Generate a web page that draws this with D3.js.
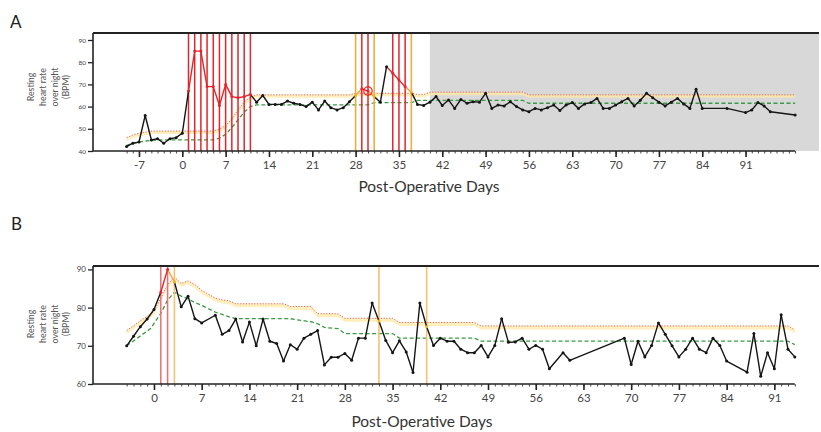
<!DOCTYPE html>
<html>
<head>
<meta charset="utf-8">
<script src="https://cdn.jsdelivr.net/npm/d3@7"></script>
<style>
  body { margin: 0; background: #fff; }
  svg { display: block; font-family: Lato, "Open Sans", sans-serif; }
</style>
</head>
<body>
<div id="chart"></div>
<script>
const width = 821;
const height = 432;

// ---- panel A data ----
const aDays = [-9, -8, -7, -6, -5, -4, -3, -2, -1, 0, 1, 2, 3, 4, 5, 6, 7, 8, 9, 10, 11,
  12, 13, 14, 15, 16, 17, 18, 19, 20, 21, 22, 23, 24, 25, 26, 27, 28, 29, 30, 31, 32, 33,
  34, 35, 36, 37, 38, 39, 40, 41, 42, 43, 44, 45, 46, 47, 48, 49, 50, 51, 52, 53, 54, 55,
  56, 57, 58, 59, 60, 61, 62, 63, 64, 65, 66, 67, 68, 69, 70, 71, 72, 73, 74, 75, 76, 77,
  78, 79, 80, 81, 82, 83, 84, 88, 91, 92, 93, 94, 95, 99];
const aBpm = [42, 43.5, 44, 56, 45, 45.5, 43.5, 45.5, 46, 48, 67, 85, 85, 69, 69, 60.5, 70, 64.5, 64, 64.5, 65.5,
  62, 65, 61, 61, 61, 62.5, 61.5, 61, 60, 62, 58.5, 62.5, 59.5, 58.5, 59.5, 62.2, 65, 68, 67, 64.5, 62, 78,
  75, 72, 69, 66.5, 61, 60.5, 62, 64.5, 60.5, 63, 59.2, 63.2, 61.5, 62.2, 62, 66, 59.2, 60.7, 60.3, 62.2, 60, 58.5,
  57.7, 59.2, 58.5, 59.5, 60.7, 58.2, 60.7, 61.8, 59.2, 61.2, 61.8, 63.7, 59.2, 59.2, 60.7, 62.2, 63.7, 60.3, 62.9, 66, 64, 62,
  60.3, 62, 63.7, 61.2, 59.2, 67.8, 59.2, 59.2, 57.3, 58.5, 61.8, 60.3, 57.7, 56.2];
const aUpper = [[-9, 46], [-8, 47.2], [-7, 48], [-6, 48.5], [-5, 49], [5, 49], [6, 49.8], [7, 51.5], [8, 54.5],
  [9, 58.5], [10, 62], [11, 64.3], [12, 65.3], [27, 65.3], [28, 66], [37, 66], [38, 65.5], [39, 65.5],
  [40, 66.5], [55, 66.5], [56, 65.3], [99, 65.3]];
const aLower = [[-9, 42.5], [-8, 43.5], [-6, 44.5], [-4, 45], [5, 45], [6, 45.8], [7, 47.5], [8, 50.5],
  [9, 54], [10, 57.5], [11, 60], [12, 60.8], [30, 60.8], [31, 61.8], [37, 61.8], [38, 62.8], [55, 62.8],
  [56, 61.5], [99, 61.5]];
const aRedDays = [1, 2, 3, 4, 5, 6, 7, 8, 9, 10, 11, 29, 30, 34, 35, 36];
const aOrangeDays = [28, 31, 37];
const aRedSegStarts = [1, 2, 3, 4, 5, 6, 7, 8, 9, 10, 29, 33, 34, 35];
const aOrangeSegStarts = [28, 30, 36];
const aCircleDay = 30;
const aShadeFrom = 40;
const aYTicks = [40, 50, 60, 70, 80, 90];
const aXTicks = [-7, 0, 7, 14, 21, 28, 35, 42, 49, 56, 63, 70, 77, 84, 91];

// ---- panel B data ----
const bDays = [-4, -3, -2, -1, 0, 1, 2, 3, 4, 5, 6, 7, 9, 10, 11, 12, 13, 14, 15, 16, 17, 18, 19, 20,
  21, 22, 23, 24, 25, 26, 27, 28, 29, 30, 31, 32, 33, 34, 35, 36, 37, 38, 39, 40, 41, 42, 43, 44,
  45, 46, 47, 48, 49, 50, 51, 52, 53, 54, 55, 56, 57, 58, 60, 61, 69, 70, 71, 72, 73, 74, 75, 76,
  77, 78, 79, 80, 81, 82, 83, 84, 87, 88, 89, 90, 91, 92, 93, 94];
const bBpm = [70, 72.5, 75, 77, 79.5, 84, 90, 86.7, 80.2, 83, 77.1, 76, 78, 73, 74, 77, 71, 76.2, 70, 77, 71.2, 70.6, 66, 70.3,
  69.1, 72, 73, 74, 65, 67, 67, 68, 66.2, 72, 72, 81.2, 76.5, 71.4, 68.2, 71.3, 68.4, 63, 81.2, 75, 70.1, 72, 71.2, 71.2,
  69.1, 68.2, 68.2, 70.1, 67.1, 70.1, 77.1, 70.9, 71, 72, 69.1, 70.1, 69.1, 64, 68.2, 66.2, 72, 65.1, 71.2, 67.1, 70.1, 76, 73, 70,
  67.1, 69.1, 72, 69.1, 68.2, 72, 70.1, 66, 63.1, 73.2, 62, 68.2, 64, 78.1, 69.1, 67.1];
const bUpper = [[-4, 74], [0, 79], [1, 82.5], [2, 86], [3, 88], [4, 86.3], [5, 87], [6, 86], [7, 84.5],
  [8, 83.5], [9, 82.5], [10, 82], [11, 81.8], [12, 81], [19, 81], [20, 80.3], [23, 80.3], [24, 78.4],
  [27, 78.4], [28, 77.2], [35, 77.2], [36, 76.1], [47, 76.1], [48, 75.2], [93, 75.2], [94, 74.2]];
const bLower = [[-4, 70], [-0.5, 74.5], [1, 78.5], [2, 82], [3, 84], [4, 83], [5, 82.3], [6, 81.3],
  [7, 80.6], [8, 79.7], [9, 78.8], [10, 78.2], [11, 77.6], [12, 77.1], [20, 77.1], [21, 76.8], [23, 76.3],
  [24, 75.8], [25, 74.8], [27, 74.5], [28, 73.2], [35, 73.2], [36, 72], [47, 72], [48, 71.2], [93, 71.2],
  [94, 70.3]];
const bRedDays = [1, 2];
const bOrangeDays = [3, 33, 40];
const bRedSegStarts = [1];
const bOrangeSegStarts = [2];
const bYTicks = [60, 70, 80, 90];
const bXTicks = [0, 7, 14, 21, 28, 35, 42, 49, 56, 63, 70, 77, 84, 91];

const yLabelLines = ["Resting", "heart rate", "over night", "(BPM)"];
const xLabel = "Post-Operative Days";

const svg = d3.select("#chart").append("svg")
  .attr("width", width)
  .attr("height", height);

function drawPanel(p) {
  const g = svg.append("g");
  const x = d3.scaleLinear().domain([p.dayMin, p.dayMax]).range(p.xRange);
  const y = d3.scaleLinear().domain(p.yDomain).range(p.yRange);
  const bottom = y(p.yDomain[0]);

  if (p.shadeFrom != null) {
    g.append("rect")
      .attr("x", x(p.shadeFrom)).attr("y", p.top)
      .attr("width", p.right - x(p.shadeFrom)).attr("height", bottom - p.top)
      .attr("fill", "#d8d8d8");
  }

  // yellow band under the upper threshold
  g.append("path")
    .datum(p.upper)
    .attr("fill", "#fde9a6")
    .attr("opacity", 0.75)
    .attr("d", d3.area().x(d => x(d[0])).y0(d => y(d[1]) + p.band).y1(d => y(d[1])));

  g.append("path")
    .datum(p.upper)
    .attr("fill", "none")
    .attr("stroke", "#e0584f")
    .attr("stroke-width", 0.9)
    .attr("stroke-dasharray", "1.3,1.5")
    .attr("d", d3.line().x(d => x(d[0])).y(d => y(d[1])));

  g.append("path")
    .datum(p.lower)
    .attr("fill", "none")
    .attr("stroke", "#3a9a45")
    .attr("stroke-width", 1.3)
    .attr("stroke-dasharray", "4,2.5")
    .attr("d", d3.line().x(d => x(d[0])).y(d => y(d[1])));

  // flagged days
  g.selectAll(".vred").data(p.redDays).join("line")
    .attr("x1", d => x(d)).attr("x2", d => x(d))
    .attr("y1", p.top).attr("y2", bottom)
    .attr("stroke", p.redColor).attr("stroke-width", 1.5);
  g.selectAll(".vorange").data(p.orangeDays).join("line")
    .attr("x1", d => x(d)).attr("x2", d => x(d))
    .attr("y1", p.top).attr("y2", bottom)
    .attr("stroke", p.orangeColor).attr("stroke-width", 1.6);

  // heart-rate line, coloured per segment
  const pts = p.days.map((d, i) => [d, p.bpm[i]]);
  const segs = d3.pairs(pts);
  g.selectAll(".seg").data(segs).join("line")
    .attr("x1", d => x(d[0][0])).attr("y1", d => y(d[0][1]))
    .attr("x2", d => x(d[1][0])).attr("y2", d => y(d[1][1]))
    .attr("stroke", d => p.redSegStarts.includes(d[0][0]) ? "#e3262b"
      : p.orangeSegStarts.includes(d[0][0]) ? "#f0a53a" : "#151515")
    .attr("stroke-width", 1.4)
    .attr("stroke-linecap", "round");

  g.selectAll(".dot").data(pts).join("circle")
    .attr("cx", d => x(d[0])).attr("cy", d => y(d[1]))
    .attr("r", 1.5)
    .attr("fill", d => p.redDays.includes(d[0]) ? "#e3262b"
      : p.orangeDays.includes(d[0]) ? "#f2b12e" : "#151515");

  if (p.circleDay != null) {
    const i = p.days.indexOf(p.circleDay);
    g.append("circle")
      .attr("cx", x(p.circleDay)).attr("cy", y(p.bpm[i]))
      .attr("r", 4.2)
      .attr("fill", "none").attr("stroke", "#e3262b").attr("stroke-width", 1.2);
  }

  // frame
  g.append("line")
    .attr("x1", p.left).attr("x2", p.right)
    .attr("y1", p.top).attr("y2", p.top)
    .attr("stroke", "#222").attr("stroke-width", 2);
  g.append("line")
    .attr("x1", p.left).attr("x2", p.left)
    .attr("y1", p.top).attr("y2", bottom)
    .attr("stroke", "#222").attr("stroke-width", 1.6);
  g.append("line")
    .attr("x1", p.left).attr("x2", x(p.dayMax))
    .attr("y1", bottom).attr("y2", bottom)
    .attr("stroke", "#222").attr("stroke-width", 1.6);

  // y axis
  const yAxis = g.append("g")
    .attr("transform", `translate(${p.left},0)`)
    .call(d3.axisLeft(y).tickValues(p.yTicks).tickSize(5).tickPadding(2));
  yAxis.select(".domain").remove();
  yAxis.selectAll("line").attr("stroke", "#222").attr("stroke-width", 1.3);
  yAxis.selectAll("text").attr("fill", "#444")
    .style("font-size", p.yTickFont + "px").style("font-family", "Lato, sans-serif");

  // x axis: minor ticks every day, major every week
  const minor = g.append("g")
    .attr("transform", `translate(0,${bottom})`)
    .call(d3.axisBottom(x).tickValues(d3.range(p.dayMin, p.dayMax + 1)).tickSize(2.5).tickFormat(""));
  minor.select(".domain").remove();
  minor.selectAll("line").attr("stroke", "#333").attr("stroke-width", 0.9);

  const major = g.append("g")
    .attr("transform", `translate(0,${bottom})`)
    .call(d3.axisBottom(x).tickValues(p.xTicks).tickSize(6).tickPadding(4).tickFormat(d => d < 0 ? "-" + (-d) : d));
  major.select(".domain").remove();
  major.selectAll("line").attr("stroke", "#222").attr("stroke-width", 1.6);
  major.selectAll("text").attr("fill", "#444")
    .style("font-size", "11.5px").style("font-family", "Lato, sans-serif");

  // axis titles
  g.append("text")
    .attr("x", p.xLabelX).attr("y", p.xLabelY)
    .attr("text-anchor", "middle")
    .attr("fill", "#333")
    .style("font-size", "15.5px")
    .text(xLabel);

  const yl = g.append("g");
  yLabelLines.forEach((t, i) => {
    const bx = 34 + i * 11.8;
    yl.append("text")
      .attr("transform", `translate(${bx},${p.yLabelY}) rotate(-90)`)
      .attr("text-anchor", "middle")
      .attr("fill", "#555")
      .style("font-size", "8.8px")
      .text(t);
  });

  g.append("text")
    .attr("x", p.letterX).attr("y", p.letterY)
    .attr("fill", "#222")
    .style("font-size", "17px")
    .text(p.letter);
}

drawPanel({
  letter: "A", letterX: 10, letterY: 28,
  days: aDays, bpm: aBpm, upper: aUpper, lower: aLower,
  redDays: aRedDays, orangeDays: aOrangeDays,
  redSegStarts: aRedSegStarts, orangeSegStarts: aOrangeSegStarts,
  redColor: "#e3262b", orangeColor: "#f2ae3c",
  circleDay: aCircleDay, shadeFrom: aShadeFrom,
  dayMin: -9, dayMax: 99, xRange: [126.6, 795.1], xTicks: aXTicks,
  yDomain: [40, 90], yRange: [151, 40], yTicks: aYTicks, yTickFont: 6.5,
  top: 33, left: 93, right: 819, band: 3,
  xLabelX: 429, xLabelY: 192, yLabelY: 87
});

drawPanel({
  letter: "B", letterX: 11, letterY: 230,
  days: bDays, bpm: bBpm, upper: bUpper, lower: bLower,
  redDays: bRedDays, orangeDays: bOrangeDays,
  redSegStarts: bRedSegStarts, orangeSegStarts: bOrangeSegStarts,
  redColor: "#ef6f6f", orangeColor: "#f4c170",
  circleDay: null, shadeFrom: null,
  dayMin: -4, dayMax: 94, xRange: [126.7, 794.8], xTicks: bXTicks,
  yDomain: [60, 90], yRange: [384, 269.4], yTicks: bYTicks, yTickFont: 8,
  top: 266, left: 93, right: 819, band: 3.5,
  xLabelX: 422, xLabelY: 427, yLabelY: 324
});
</script>
</body>
</html>
